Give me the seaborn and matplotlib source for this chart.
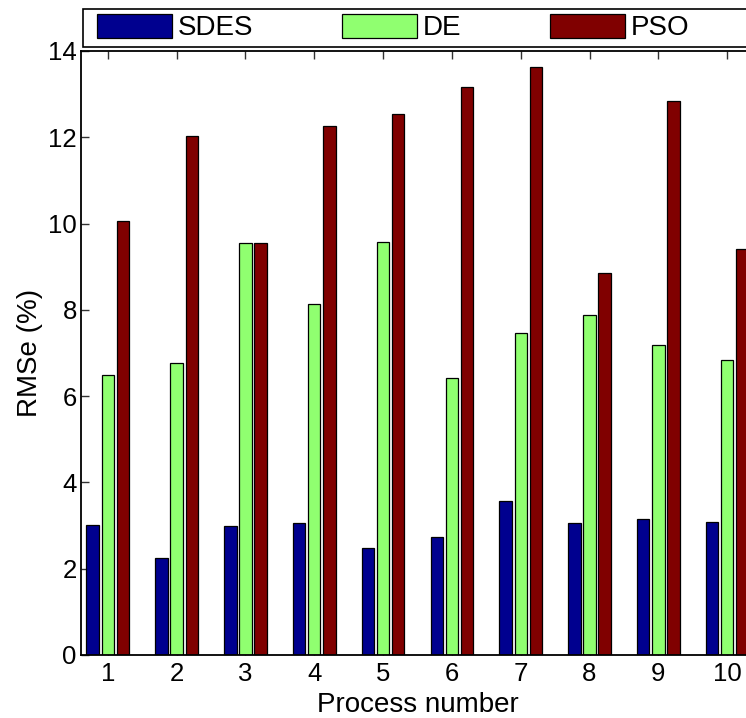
import matplotlib
matplotlib.use("Agg")
import matplotlib.pyplot as plt
import matplotlib.patches as mpatches
import numpy as np
import pandas as pd
import seaborn as sns

# ---- data ----
processes = ["1", "2", "3", "4", "5", "6", "7", "8", "9", "10"]
methods = ["SDES", "DE", "PSO"]
sdes = [3.02, 2.24, 2.99, 3.06, 2.48, 2.74, 3.56, 3.06, 3.16, 3.08]
de = [6.48, 6.77, 9.56, 8.14, 9.58, 6.41, 7.47, 7.89, 7.19, 6.83]
pso = [10.05, 12.04, 9.55, 12.27, 12.53, 13.16, 13.62, 8.85, 12.84, 9.41]
yticks = [0, 2, 4, 6, 8, 10, 12, 14]
colors = ["#00008F", "#90FF70", "#800000"]

df = pd.DataFrame({
    "Process": processes * 3,
    "RMSe": sdes + de + pso,
    "Method": ["SDES"] * 10 + ["DE"] * 10 + ["PSO"] * 10,
})

sns.set_style("white")
plt.rcParams["font.family"] = ["Liberation Sans", "DejaVu Sans"]
plt.rcParams["text.color"] = "black"
plt.rcParams["axes.labelcolor"] = "black"
plt.rcParams["xtick.color"] = "black"
plt.rcParams["ytick.color"] = "black"

W, H = 746, 718
fig = plt.figure(figsize=(W / 100, H / 100), dpi=100)
ax_left, ax_right, ax_top, ax_bottom = 81, 754, 51, 655
ax = fig.add_axes([ax_left / W, 1 - ax_bottom / H,
                   (ax_right - ax_left) / W, (ax_bottom - ax_top) / H])

sns.barplot(data=df, x="Process", y="RMSe", hue="Method", order=processes,
            hue_order=methods, palette=colors, width=0.66, gap=0.18,
            saturation=1, edgecolor="black", linewidth=0.9, ax=ax,
            legend=False)

ax.set_xlim(-0.39, 9.39)
ax.set_ylim(0, 14)
ax.set_yticks(yticks)
ax.set_yticklabels([str(v) for v in yticks])
ax.set_axisbelow(True)

for s in ax.spines.values():
    s.set_visible(True)
    s.set_color("black")
    s.set_linewidth(1.3)

ax.tick_params(axis="both", direction="in", length=6, width=1,
               color="#333333", labelcolor="black", top=True, bottom=True,
               left=True, right=True, labelsize=18.5)
ax.tick_params(axis="y", pad=3)
ax.tick_params(axis="x", pad=5)

ax.set_xlabel("Process number", fontsize=20, labelpad=4, color="black")
ax.set_ylabel("RMSe (%)", fontsize=20, labelpad=4, color="black")

# legend frame (spans across top, cropped at the right like the reference)
frame = mpatches.Rectangle((82.5 / W, 1 - 47 / H), (765 - 82.5) / W,
                           (47 - 9) / H, transform=fig.transFigure,
                           facecolor="white", edgecolor="black",
                           linewidth=1.2, zorder=1)
fig.patches.append(frame)

handles = [mpatches.Patch(facecolor=c, edgecolor="black", linewidth=0.9)
           for c in colors]
fig.legend(handles, methods, loc="center left",
           bbox_to_anchor=(97 / W, 1 - 27.5 / H), ncol=3, frameon=False,
           fontsize=20, handlelength=2.7, handleheight=0.94,
           handletextpad=0.2, columnspacing=3.2, borderpad=0,
           borderaxespad=0, labelcolor="black")

fig.savefig("out.png", dpi=100)
